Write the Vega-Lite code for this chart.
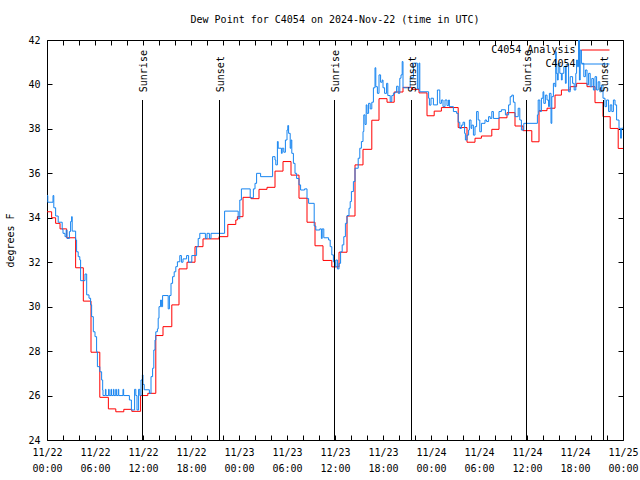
{
  "$schema": "https://vega.github.io/schema/vega-lite/v6.json",
  "width": 576,
  "height": 400,
  "autosize": {"type": "none"},
  "padding": {"left": 47, "top": 40, "right": 17, "bottom": 40},
  "background": "white",
  "title": {"text": "Dew Point for C4054 on 2024-Nov-22 (time in UTC)", "font": "DejaVu Sans Mono", "fontSize": 10, "fontWeight": "normal", "color": "black", "offset": 10},
  "config": {
    "view": {"stroke": "black", "strokeWidth": 1},
    "axis": {"labelFont": "DejaVu Sans Mono", "labelFontSize": 10, "labelColor": "black", "titleFont": "DejaVu Sans Mono", "titleFontSize": 10, "titleFontWeight": "normal", "titleColor": "black", "tickColor": "black", "domain": false, "grid": false, "tickSize": -5, "labelPadding": 12},
    "legend": {"labelFont": "DejaVu Sans Mono", "labelFontSize": 10, "labelColor": "black"}
  },
  "datasets": {
    "obs": [
      {"series": "C4054 Analysis", "hours": 0, "dewpoint": 34.27},
      {"series": "C4054 Analysis", "hours": 0.58, "dewpoint": 34.0},
      {"series": "C4054 Analysis", "hours": 1.08, "dewpoint": 33.75},
      {"series": "C4054 Analysis", "hours": 1.63, "dewpoint": 33.5},
      {"series": "C4054 Analysis", "hours": 2.46, "dewpoint": 33.1},
      {"series": "C4054 Analysis", "hours": 3.58, "dewpoint": 31.75},
      {"series": "C4054 Analysis", "hours": 4.54, "dewpoint": 30.25},
      {"series": "C4054 Analysis", "hours": 5.5, "dewpoint": 27.95},
      {"series": "C4054 Analysis", "hours": 6.6, "dewpoint": 25.92},
      {"series": "C4054 Analysis", "hours": 7.67, "dewpoint": 25.4},
      {"series": "C4054 Analysis", "hours": 8.6, "dewpoint": 25.27},
      {"series": "C4054 Analysis", "hours": 9.6, "dewpoint": 25.38},
      {"series": "C4054 Analysis", "hours": 10.6, "dewpoint": 25.29},
      {"series": "C4054 Analysis", "hours": 11.7, "dewpoint": 26.0},
      {"series": "C4054 Analysis", "hours": 12.6, "dewpoint": 26.1},
      {"series": "C4054 Analysis", "hours": 13.6, "dewpoint": 28.7},
      {"series": "C4054 Analysis", "hours": 14.5, "dewpoint": 29.1},
      {"series": "C4054 Analysis", "hours": 15.6, "dewpoint": 30.08},
      {"series": "C4054 Analysis", "hours": 16.5, "dewpoint": 31.7},
      {"series": "C4054 Analysis", "hours": 17.5, "dewpoint": 32.0},
      {"series": "C4054 Analysis", "hours": 18.5, "dewpoint": 32.7},
      {"series": "C4054 Analysis", "hours": 19.5, "dewpoint": 33.05},
      {"series": "C4054 Analysis", "hours": 21.5, "dewpoint": 33.15},
      {"series": "C4054 Analysis", "hours": 22.6, "dewpoint": 33.7},
      {"series": "C4054 Analysis", "hours": 23.6, "dewpoint": 33.9},
      {"series": "C4054 Analysis", "hours": 23.8, "dewpoint": 34.05},
      {"series": "C4054 Analysis", "hours": 24.5, "dewpoint": 34.92},
      {"series": "C4054 Analysis", "hours": 25.5, "dewpoint": 34.86},
      {"series": "C4054 Analysis", "hours": 26.5, "dewpoint": 35.28},
      {"series": "C4054 Analysis", "hours": 27.5, "dewpoint": 35.37},
      {"series": "C4054 Analysis", "hours": 28.5, "dewpoint": 36.1},
      {"series": "C4054 Analysis", "hours": 29.5, "dewpoint": 36.53},
      {"series": "C4054 Analysis", "hours": 30.5, "dewpoint": 35.92},
      {"series": "C4054 Analysis", "hours": 31.5, "dewpoint": 34.88},
      {"series": "C4054 Analysis", "hours": 32.5, "dewpoint": 33.8},
      {"series": "C4054 Analysis", "hours": 33.5, "dewpoint": 32.74},
      {"series": "C4054 Analysis", "hours": 34.5, "dewpoint": 32.08},
      {"series": "C4054 Analysis", "hours": 35.6, "dewpoint": 31.79},
      {"series": "C4054 Analysis", "hours": 36.5, "dewpoint": 32.45},
      {"series": "C4054 Analysis", "hours": 37.5, "dewpoint": 34.08},
      {"series": "C4054 Analysis", "hours": 38.5, "dewpoint": 36.38},
      {"series": "C4054 Analysis", "hours": 39.5, "dewpoint": 37.08},
      {"series": "C4054 Analysis", "hours": 40.6, "dewpoint": 38.39},
      {"series": "C4054 Analysis", "hours": 41.5, "dewpoint": 39.36},
      {"series": "C4054 Analysis", "hours": 42.5, "dewpoint": 39.2},
      {"series": "C4054 Analysis", "hours": 43.4, "dewpoint": 39.66},
      {"series": "C4054 Analysis", "hours": 44.5, "dewpoint": 39.87},
      {"series": "C4054 Analysis", "hours": 45.6, "dewpoint": 39.78},
      {"series": "C4054 Analysis", "hours": 46.5, "dewpoint": 39.62},
      {"series": "C4054 Analysis", "hours": 47.5, "dewpoint": 38.59},
      {"series": "C4054 Analysis", "hours": 48.4, "dewpoint": 38.8},
      {"series": "C4054 Analysis", "hours": 49.3, "dewpoint": 38.96},
      {"series": "C4054 Analysis", "hours": 51.4, "dewpoint": 38.06},
      {"series": "C4054 Analysis", "hours": 52.5, "dewpoint": 37.4},
      {"series": "C4054 Analysis", "hours": 53.5, "dewpoint": 37.58},
      {"series": "C4054 Analysis", "hours": 54.3, "dewpoint": 37.68},
      {"series": "C4054 Analysis", "hours": 55.6, "dewpoint": 37.98},
      {"series": "C4054 Analysis", "hours": 56.5, "dewpoint": 38.5},
      {"series": "C4054 Analysis", "hours": 57.5, "dewpoint": 38.73},
      {"series": "C4054 Analysis", "hours": 58.5, "dewpoint": 38.13},
      {"series": "C4054 Analysis", "hours": 59.5, "dewpoint": 37.92},
      {"series": "C4054 Analysis", "hours": 60.6, "dewpoint": 37.42},
      {"series": "C4054 Analysis", "hours": 61.5, "dewpoint": 38.82},
      {"series": "C4054 Analysis", "hours": 62.5, "dewpoint": 38.93},
      {"series": "C4054 Analysis", "hours": 63.5, "dewpoint": 39.52},
      {"series": "C4054 Analysis", "hours": 64.3, "dewpoint": 39.75},
      {"series": "C4054 Analysis", "hours": 65.4, "dewpoint": 39.9},
      {"series": "C4054 Analysis", "hours": 66.2, "dewpoint": 40.05},
      {"series": "C4054 Analysis", "hours": 67.5, "dewpoint": 39.9},
      {"series": "C4054 Analysis", "hours": 68.5, "dewpoint": 39.18},
      {"series": "C4054 Analysis", "hours": 69.5, "dewpoint": 38.55},
      {"series": "C4054 Analysis", "hours": 70.4, "dewpoint": 38.02},
      {"series": "C4054 Analysis", "hours": 71.4, "dewpoint": 37.12},
      {"series": "C4054 Analysis", "hours": 72, "dewpoint": 37.12},
      {"series": "C4054", "hours": 0, "dewpoint": 35.0},
      {"series": "C4054", "hours": 0.1, "dewpoint": 34.7},
      {"series": "C4054", "hours": 0.75, "dewpoint": 35.0},
      {"series": "C4054", "hours": 0.85, "dewpoint": 34.45},
      {"series": "C4054", "hours": 1.08, "dewpoint": 34.08},
      {"series": "C4054", "hours": 1.4, "dewpoint": 33.8},
      {"series": "C4054", "hours": 1.9, "dewpoint": 33.48},
      {"series": "C4054", "hours": 2.0, "dewpoint": 33.3},
      {"series": "C4054", "hours": 2.25, "dewpoint": 33.15},
      {"series": "C4054", "hours": 2.4, "dewpoint": 33.45},
      {"series": "C4054", "hours": 2.5, "dewpoint": 33.07},
      {"series": "C4054", "hours": 2.8, "dewpoint": 33.38},
      {"series": "C4054", "hours": 2.95, "dewpoint": 33.83},
      {"series": "C4054", "hours": 3.08, "dewpoint": 34.05},
      {"series": "C4054", "hours": 3.15, "dewpoint": 33.4},
      {"series": "C4054", "hours": 3.58, "dewpoint": 33.0},
      {"series": "C4054", "hours": 3.7, "dewpoint": 32.47},
      {"series": "C4054", "hours": 3.9, "dewpoint": 32.25},
      {"series": "C4054", "hours": 4.1, "dewpoint": 32.1},
      {"series": "C4054", "hours": 4.2, "dewpoint": 31.17},
      {"series": "C4054", "hours": 4.75, "dewpoint": 31.47},
      {"series": "C4054", "hours": 4.96, "dewpoint": 30.53},
      {"series": "C4054", "hours": 5.25, "dewpoint": 30.38},
      {"series": "C4054", "hours": 5.45, "dewpoint": 30.08},
      {"series": "C4054", "hours": 5.58, "dewpoint": 29.55},
      {"series": "C4054", "hours": 5.79, "dewpoint": 28.87},
      {"series": "C4054", "hours": 6.0, "dewpoint": 28.65},
      {"series": "C4054", "hours": 6.2, "dewpoint": 27.97},
      {"series": "C4054", "hours": 6.3, "dewpoint": 27.3},
      {"series": "C4054", "hours": 6.6, "dewpoint": 27.07},
      {"series": "C4054", "hours": 6.83, "dewpoint": 26.7},
      {"series": "C4054", "hours": 6.96, "dewpoint": 26.25},
      {"series": "C4054", "hours": 7.0, "dewpoint": 26.0},
      {"series": "C4054", "hours": 7.3, "dewpoint": 26.28},
      {"series": "C4054", "hours": 7.37, "dewpoint": 26.0},
      {"series": "C4054", "hours": 7.7, "dewpoint": 26.28},
      {"series": "C4054", "hours": 7.77, "dewpoint": 26.0},
      {"series": "C4054", "hours": 8.0, "dewpoint": 26.28},
      {"series": "C4054", "hours": 8.07, "dewpoint": 26.0},
      {"series": "C4054", "hours": 8.3, "dewpoint": 26.28},
      {"series": "C4054", "hours": 8.37, "dewpoint": 26.0},
      {"series": "C4054", "hours": 8.6, "dewpoint": 26.28},
      {"series": "C4054", "hours": 8.67, "dewpoint": 26.0},
      {"series": "C4054", "hours": 8.9, "dewpoint": 26.28},
      {"series": "C4054", "hours": 8.97, "dewpoint": 26.0},
      {"series": "C4054", "hours": 9.5, "dewpoint": 26.28},
      {"series": "C4054", "hours": 9.58, "dewpoint": 26.0},
      {"series": "C4054", "hours": 10.3, "dewpoint": 25.8},
      {"series": "C4054", "hours": 10.55, "dewpoint": 25.35},
      {"series": "C4054", "hours": 10.95, "dewpoint": 26.28},
      {"series": "C4054", "hours": 11.1, "dewpoint": 26.0},
      {"series": "C4054", "hours": 11.25, "dewpoint": 25.35},
      {"series": "C4054", "hours": 11.45, "dewpoint": 26.28},
      {"series": "C4054", "hours": 11.6, "dewpoint": 26.0},
      {"series": "C4054", "hours": 11.75, "dewpoint": 26.7},
      {"series": "C4054", "hours": 11.92, "dewpoint": 26.93},
      {"series": "C4054", "hours": 12.0, "dewpoint": 26.5},
      {"series": "C4054", "hours": 12.15, "dewpoint": 26.26},
      {"series": "C4054", "hours": 12.8, "dewpoint": 26.1},
      {"series": "C4054", "hours": 13.0, "dewpoint": 26.85},
      {"series": "C4054", "hours": 13.2, "dewpoint": 27.23},
      {"series": "C4054", "hours": 13.35, "dewpoint": 28.05},
      {"series": "C4054", "hours": 13.5, "dewpoint": 28.5},
      {"series": "C4054", "hours": 13.6, "dewpoint": 28.87},
      {"series": "C4054", "hours": 13.8, "dewpoint": 29.0},
      {"series": "C4054", "hours": 13.9, "dewpoint": 29.48},
      {"series": "C4054", "hours": 14.0, "dewpoint": 30.0},
      {"series": "C4054", "hours": 14.2, "dewpoint": 30.3},
      {"series": "C4054", "hours": 14.3, "dewpoint": 30.0},
      {"series": "C4054", "hours": 14.45, "dewpoint": 30.5},
      {"series": "C4054", "hours": 15.15, "dewpoint": 29.9},
      {"series": "C4054", "hours": 15.3, "dewpoint": 30.5},
      {"series": "C4054", "hours": 15.5, "dewpoint": 31.05},
      {"series": "C4054", "hours": 15.7, "dewpoint": 31.35},
      {"series": "C4054", "hours": 15.9, "dewpoint": 31.57},
      {"series": "C4054", "hours": 16.1, "dewpoint": 31.8},
      {"series": "C4054", "hours": 16.3, "dewpoint": 32.02},
      {"series": "C4054", "hours": 16.6, "dewpoint": 32.3},
      {"series": "C4054", "hours": 16.8, "dewpoint": 32.0},
      {"series": "C4054", "hours": 17.0, "dewpoint": 32.15},
      {"series": "C4054", "hours": 17.45, "dewpoint": 32.3},
      {"series": "C4054", "hours": 17.7, "dewpoint": 32.0},
      {"series": "C4054", "hours": 18.1, "dewpoint": 32.3},
      {"series": "C4054", "hours": 18.7, "dewpoint": 32.7},
      {"series": "C4054", "hours": 18.9, "dewpoint": 33.07},
      {"series": "C4054", "hours": 19.1, "dewpoint": 33.3},
      {"series": "C4054", "hours": 19.8, "dewpoint": 33.07},
      {"series": "C4054", "hours": 20.0, "dewpoint": 33.3},
      {"series": "C4054", "hours": 20.3, "dewpoint": 33.07},
      {"series": "C4054", "hours": 20.5, "dewpoint": 33.3},
      {"series": "C4054", "hours": 22.2, "dewpoint": 34.3},
      {"series": "C4054", "hours": 23.9, "dewpoint": 33.96},
      {"series": "C4054", "hours": 24.1, "dewpoint": 34.8},
      {"series": "C4054", "hours": 24.3, "dewpoint": 35.3},
      {"series": "C4054", "hours": 25.4, "dewpoint": 34.9},
      {"series": "C4054", "hours": 25.8, "dewpoint": 35.3},
      {"series": "C4054", "hours": 26.0, "dewpoint": 35.55},
      {"series": "C4054", "hours": 26.2, "dewpoint": 36.0},
      {"series": "C4054", "hours": 26.7, "dewpoint": 35.85},
      {"series": "C4054", "hours": 28.2, "dewpoint": 36.75},
      {"series": "C4054", "hours": 28.5, "dewpoint": 36.6},
      {"series": "C4054", "hours": 28.6, "dewpoint": 36.38},
      {"series": "C4054", "hours": 28.8, "dewpoint": 37.43},
      {"series": "C4054", "hours": 28.9, "dewpoint": 37.13},
      {"series": "C4054", "hours": 29.3, "dewpoint": 36.9},
      {"series": "C4054", "hours": 29.4, "dewpoint": 37.13},
      {"series": "C4054", "hours": 29.6, "dewpoint": 36.95},
      {"series": "C4054", "hours": 29.8, "dewpoint": 37.5},
      {"series": "C4054", "hours": 30.0, "dewpoint": 37.95},
      {"series": "C4054", "hours": 30.1, "dewpoint": 38.15},
      {"series": "C4054", "hours": 30.2, "dewpoint": 37.8},
      {"series": "C4054", "hours": 30.4, "dewpoint": 37.13},
      {"series": "C4054", "hours": 30.5, "dewpoint": 37.5},
      {"series": "C4054", "hours": 30.6, "dewpoint": 36.9},
      {"series": "C4054", "hours": 30.8, "dewpoint": 36.45},
      {"series": "C4054", "hours": 31.0, "dewpoint": 36.0},
      {"series": "C4054", "hours": 31.2, "dewpoint": 35.77},
      {"series": "C4054", "hours": 31.5, "dewpoint": 35.48},
      {"series": "C4054", "hours": 31.7, "dewpoint": 35.25},
      {"series": "C4054", "hours": 32.2, "dewpoint": 35.3},
      {"series": "C4054", "hours": 32.5, "dewpoint": 34.87},
      {"series": "C4054", "hours": 32.7, "dewpoint": 34.65},
      {"series": "C4054", "hours": 33.4, "dewpoint": 33.63},
      {"series": "C4054", "hours": 33.6, "dewpoint": 33.45},
      {"series": "C4054", "hours": 34.1, "dewpoint": 33.5},
      {"series": "C4054", "hours": 34.3, "dewpoint": 33.07},
      {"series": "C4054", "hours": 34.4, "dewpoint": 33.5},
      {"series": "C4054", "hours": 34.6, "dewpoint": 33.1},
      {"series": "C4054", "hours": 35.2, "dewpoint": 33.0},
      {"series": "C4054", "hours": 35.4, "dewpoint": 32.7},
      {"series": "C4054", "hours": 35.6, "dewpoint": 32.33},
      {"series": "C4054", "hours": 35.8, "dewpoint": 32.02},
      {"series": "C4054", "hours": 36.0, "dewpoint": 31.8},
      {"series": "C4054", "hours": 36.1, "dewpoint": 32.1},
      {"series": "C4054", "hours": 36.3, "dewpoint": 31.7},
      {"series": "C4054", "hours": 36.5, "dewpoint": 31.95},
      {"series": "C4054", "hours": 36.7, "dewpoint": 32.47},
      {"series": "C4054", "hours": 36.9, "dewpoint": 32.78},
      {"series": "C4054", "hours": 37.1, "dewpoint": 33.15},
      {"series": "C4054", "hours": 37.3, "dewpoint": 33.75},
      {"series": "C4054", "hours": 37.5, "dewpoint": 34.1},
      {"series": "C4054", "hours": 37.75, "dewpoint": 34.43},
      {"series": "C4054", "hours": 37.9, "dewpoint": 34.73},
      {"series": "C4054", "hours": 38.05, "dewpoint": 35.18},
      {"series": "C4054", "hours": 38.3, "dewpoint": 35.63},
      {"series": "C4054", "hours": 38.5, "dewpoint": 36.23},
      {"series": "C4054", "hours": 38.9, "dewpoint": 36.68},
      {"series": "C4054", "hours": 39.1, "dewpoint": 37.13},
      {"series": "C4054", "hours": 39.3, "dewpoint": 37.43},
      {"series": "C4054", "hours": 39.5, "dewpoint": 37.88},
      {"series": "C4054", "hours": 39.6, "dewpoint": 38.63},
      {"series": "C4054", "hours": 39.75, "dewpoint": 38.2},
      {"series": "C4054", "hours": 39.9, "dewpoint": 39.08},
      {"series": "C4054", "hours": 40.0, "dewpoint": 38.7},
      {"series": "C4054", "hours": 40.2, "dewpoint": 39.15},
      {"series": "C4054", "hours": 40.4, "dewpoint": 38.9},
      {"series": "C4054", "hours": 40.6, "dewpoint": 39.2},
      {"series": "C4054", "hours": 40.8, "dewpoint": 39.85},
      {"series": "C4054", "hours": 41.0, "dewpoint": 40.75},
      {"series": "C4054", "hours": 41.1, "dewpoint": 39.9},
      {"series": "C4054", "hours": 41.3, "dewpoint": 39.6},
      {"series": "C4054", "hours": 41.5, "dewpoint": 40.43},
      {"series": "C4054", "hours": 41.7, "dewpoint": 40.1},
      {"series": "C4054", "hours": 41.9, "dewpoint": 40.2},
      {"series": "C4054", "hours": 42.0, "dewpoint": 39.85},
      {"series": "C4054", "hours": 42.2, "dewpoint": 39.6},
      {"series": "C4054", "hours": 42.45, "dewpoint": 40.05},
      {"series": "C4054", "hours": 42.6, "dewpoint": 39.5},
      {"series": "C4054", "hours": 42.9, "dewpoint": 39.23},
      {"series": "C4054", "hours": 43.1, "dewpoint": 39.5},
      {"series": "C4054", "hours": 43.3, "dewpoint": 39.6},
      {"series": "C4054", "hours": 43.5, "dewpoint": 39.65},
      {"series": "C4054", "hours": 43.7, "dewpoint": 39.92},
      {"series": "C4054", "hours": 43.9, "dewpoint": 39.6},
      {"series": "C4054", "hours": 44.1, "dewpoint": 40.28},
      {"series": "C4054", "hours": 44.25, "dewpoint": 40.43},
      {"series": "C4054", "hours": 44.4, "dewpoint": 41.03},
      {"series": "C4054", "hours": 44.5, "dewpoint": 39.85},
      {"series": "C4054", "hours": 45.4, "dewpoint": 40.3},
      {"series": "C4054", "hours": 45.8, "dewpoint": 40.96},
      {"series": "C4054", "hours": 46.3, "dewpoint": 39.8},
      {"series": "C4054", "hours": 46.5, "dewpoint": 40.96},
      {"series": "C4054", "hours": 46.6, "dewpoint": 39.67},
      {"series": "C4054", "hours": 47.7, "dewpoint": 39.38},
      {"series": "C4054", "hours": 47.8, "dewpoint": 39.07},
      {"series": "C4054", "hours": 48.0, "dewpoint": 39.38},
      {"series": "C4054", "hours": 48.3, "dewpoint": 39.08},
      {"series": "C4054", "hours": 48.8, "dewpoint": 39.75},
      {"series": "C4054", "hours": 49.1, "dewpoint": 39.15},
      {"series": "C4054", "hours": 49.3, "dewpoint": 39.3},
      {"series": "C4054", "hours": 49.5, "dewpoint": 39.0},
      {"series": "C4054", "hours": 49.75, "dewpoint": 39.3},
      {"series": "C4054", "hours": 50.0, "dewpoint": 39.05},
      {"series": "C4054", "hours": 50.2, "dewpoint": 39.3},
      {"series": "C4054", "hours": 50.3, "dewpoint": 39.0},
      {"series": "C4054", "hours": 50.8, "dewpoint": 38.78},
      {"series": "C4054", "hours": 51.2, "dewpoint": 38.7},
      {"series": "C4054", "hours": 51.4, "dewpoint": 38.3},
      {"series": "C4054", "hours": 51.6, "dewpoint": 38.02},
      {"series": "C4054", "hours": 51.8, "dewpoint": 38.17},
      {"series": "C4054", "hours": 52.0, "dewpoint": 38.3},
      {"series": "C4054", "hours": 52.2, "dewpoint": 37.8},
      {"series": "C4054", "hours": 52.3, "dewpoint": 37.5},
      {"series": "C4054", "hours": 52.5, "dewpoint": 37.72},
      {"series": "C4054", "hours": 52.7, "dewpoint": 37.95},
      {"series": "C4054", "hours": 52.8, "dewpoint": 38.4},
      {"series": "C4054", "hours": 53.0, "dewpoint": 38.02},
      {"series": "C4054", "hours": 53.1, "dewpoint": 38.17},
      {"series": "C4054", "hours": 53.3, "dewpoint": 37.72},
      {"series": "C4054", "hours": 53.5, "dewpoint": 38.1},
      {"series": "C4054", "hours": 53.7, "dewpoint": 38.78},
      {"series": "C4054", "hours": 53.9, "dewpoint": 38.4},
      {"series": "C4054", "hours": 54.1, "dewpoint": 37.87},
      {"series": "C4054", "hours": 54.3, "dewpoint": 38.25},
      {"series": "C4054", "hours": 54.75, "dewpoint": 38.4},
      {"series": "C4054", "hours": 54.95, "dewpoint": 38.33},
      {"series": "C4054", "hours": 55.2, "dewpoint": 38.55},
      {"series": "C4054", "hours": 55.4, "dewpoint": 38.47},
      {"series": "C4054", "hours": 55.6, "dewpoint": 38.78},
      {"series": "C4054", "hours": 55.8, "dewpoint": 38.47},
      {"series": "C4054", "hours": 56.5, "dewpoint": 38.78},
      {"series": "C4054", "hours": 56.8, "dewpoint": 38.86},
      {"series": "C4054", "hours": 57.3, "dewpoint": 38.63},
      {"series": "C4054", "hours": 57.7, "dewpoint": 39.08},
      {"series": "C4054", "hours": 57.9, "dewpoint": 39.45},
      {"series": "C4054", "hours": 58.1, "dewpoint": 39.52},
      {"series": "C4054", "hours": 58.3, "dewpoint": 39.2},
      {"series": "C4054", "hours": 58.5, "dewpoint": 38.55},
      {"series": "C4054", "hours": 58.9, "dewpoint": 38.93},
      {"series": "C4054", "hours": 59.1, "dewpoint": 38.4},
      {"series": "C4054", "hours": 59.3, "dewpoint": 37.95},
      {"series": "C4054", "hours": 59.6, "dewpoint": 38.25},
      {"series": "C4054", "hours": 61.3, "dewpoint": 38.63},
      {"series": "C4054", "hours": 61.4, "dewpoint": 39.3},
      {"series": "C4054", "hours": 61.6, "dewpoint": 38.78},
      {"series": "C4054", "hours": 61.8, "dewpoint": 39.38},
      {"series": "C4054", "hours": 62.0, "dewpoint": 39.67},
      {"series": "C4054", "hours": 62.1, "dewpoint": 39.15},
      {"series": "C4054", "hours": 62.3, "dewpoint": 39.52},
      {"series": "C4054", "hours": 62.5, "dewpoint": 39.3},
      {"series": "C4054", "hours": 62.7, "dewpoint": 39.0},
      {"series": "C4054", "hours": 62.8, "dewpoint": 39.6},
      {"series": "C4054", "hours": 63.0, "dewpoint": 38.25},
      {"series": "C4054", "hours": 63.1, "dewpoint": 39.45},
      {"series": "C4054", "hours": 63.3, "dewpoint": 40.05},
      {"series": "C4054", "hours": 63.5, "dewpoint": 39.9},
      {"series": "C4054", "hours": 63.6, "dewpoint": 41.47},
      {"series": "C4054", "hours": 63.65, "dewpoint": 40.5},
      {"series": "C4054", "hours": 63.8, "dewpoint": 40.2},
      {"series": "C4054", "hours": 63.9, "dewpoint": 40.95},
      {"series": "C4054", "hours": 64.1, "dewpoint": 40.5},
      {"series": "C4054", "hours": 64.3, "dewpoint": 40.2},
      {"series": "C4054", "hours": 64.4, "dewpoint": 40.5},
      {"series": "C4054", "hours": 64.6, "dewpoint": 40.8},
      {"series": "C4054", "hours": 64.8, "dewpoint": 40.05},
      {"series": "C4054", "hours": 64.9, "dewpoint": 40.9},
      {"series": "C4054", "hours": 65.2, "dewpoint": 39.67},
      {"series": "C4054", "hours": 65.4, "dewpoint": 40.35},
      {"series": "C4054", "hours": 65.7, "dewpoint": 40.05},
      {"series": "C4054", "hours": 65.9, "dewpoint": 39.75},
      {"series": "C4054", "hours": 66.1, "dewpoint": 40.5},
      {"series": "C4054", "hours": 66.2, "dewpoint": 41.1},
      {"series": "C4054", "hours": 66.3, "dewpoint": 40.8},
      {"series": "C4054", "hours": 66.45, "dewpoint": 42.0},
      {"series": "C4054", "hours": 66.55, "dewpoint": 40.2},
      {"series": "C4054", "hours": 66.65, "dewpoint": 41.55},
      {"series": "C4054", "hours": 66.8, "dewpoint": 40.95},
      {"series": "C4054", "hours": 67.1, "dewpoint": 40.35},
      {"series": "C4054", "hours": 67.3, "dewpoint": 40.65},
      {"series": "C4054", "hours": 67.5, "dewpoint": 39.98},
      {"series": "C4054", "hours": 67.7, "dewpoint": 40.5},
      {"series": "C4054", "hours": 67.9, "dewpoint": 39.9},
      {"series": "C4054", "hours": 68.1, "dewpoint": 40.27},
      {"series": "C4054", "hours": 68.3, "dewpoint": 39.75},
      {"series": "C4054", "hours": 68.5, "dewpoint": 40.35},
      {"series": "C4054", "hours": 68.7, "dewpoint": 39.75},
      {"series": "C4054", "hours": 68.9, "dewpoint": 40.12},
      {"series": "C4054", "hours": 69.1, "dewpoint": 39.67},
      {"series": "C4054", "hours": 69.3, "dewpoint": 39.97},
      {"series": "C4054", "hours": 69.5, "dewpoint": 39.38},
      {"series": "C4054", "hours": 69.75, "dewpoint": 39.0},
      {"series": "C4054", "hours": 69.95, "dewpoint": 39.3},
      {"series": "C4054", "hours": 70.2, "dewpoint": 38.78},
      {"series": "C4054", "hours": 70.4, "dewpoint": 39.08},
      {"series": "C4054", "hours": 70.6, "dewpoint": 38.78},
      {"series": "C4054", "hours": 70.8, "dewpoint": 39.3},
      {"series": "C4054", "hours": 71.0, "dewpoint": 39.08},
      {"series": "C4054", "hours": 71.2, "dewpoint": 38.4},
      {"series": "C4054", "hours": 71.5, "dewpoint": 38.03},
      {"series": "C4054", "hours": 71.7, "dewpoint": 37.58},
      {"series": "C4054", "hours": 71.8, "dewpoint": 38.03},
      {"series": "C4054", "hours": 72, "dewpoint": 38.03}
    ],
    "events": [
      {"event": "Sunrise", "hours": 11.875},
      {"event": "Sunset", "hours": 21.5},
      {"event": "Sunrise", "hours": 35.875},
      {"event": "Sunset", "hours": 45.5},
      {"event": "Sunrise", "hours": 59.875},
      {"event": "Sunset", "hours": 69.5}
    ]
  },
  "layer": [
    {
      "data": {"name": "obs"},
      "mark": {"type": "line", "interpolate": "step-after", "strokeWidth": 1, "clip": true},
      "encoding": {
        "x": {
          "field": "hours", "type": "quantitative",
          "scale": {"domain": [0, 72], "nice": false, "zero": false},
          "axis": {"orient": "bottom", "title": null, "values": [0, 2, 4, 6, 8, 10, 12, 14, 16, 18, 20, 22, 24, 26, 28, 30, 32, 34, 36, 38, 40, 42, 44, 46, 48, 50, 52, 54, 56, 58, 60, 62, 64, 66, 68, 70, 72], "labelFlush": false, "labelOverlap": false, "labelLineHeight": 16, "labelExpr": "datum.value % 6 == 0 ? ['11/' + (22 + floor(datum.value / 24)), (datum.value % 24 < 10 ? '0' : '') + (datum.value % 24) + ':00'] : ''"}
        },
        "y": {
          "field": "dewpoint", "type": "quantitative",
          "scale": {"domain": [24, 42], "nice": false, "zero": false},
          "axis": {"orient": "left", "title": "degrees F", "values": [24, 26, 28, 30, 32, 34, 36, 38, 40, 42], "titleAngle": -90, "titleX": -37, "titleY": 200, "titleAlign": "center", "titleBaseline": "middle"}
        },
        "color": {
          "field": "series", "type": "nominal",
          "scale": {"domain": ["C4054 Analysis", "C4054"], "range": ["#ff0000", "#1684f0"]},
          "legend": {"title": null, "orient": "none", "legendX": 543.5, "legendY": 5, "symbolType": "M-5.6,0H5.6", "symbolSize": 25, "symbolStrokeWidth": 1, "symbolOffset": 0, "labelAlign": "right", "labelOffset": -25, "rowPadding": 4, "padding": 0}
        }
      }
    },
    {
      "data": {"name": "events"},
      "mark": {"type": "rule", "color": "black", "strokeWidth": 1, "xOffset": 0.5},
      "encoding": {
        "x": {"field": "hours", "type": "quantitative", "axis": {"orient": "top", "title": null, "labels": false, "values": [0, 2, 4, 6, 8, 10, 12, 14, 16, 18, 20, 22, 24, 26, 28, 30, 32, 34, 36, 38, 40, 42, 44, 46, 48, 50, 52, 54, 56, 58, 60, 62, 64, 66, 68, 70, 72]}},
        "y": {"datum": 24, "type": "quantitative", "axis": {"orient": "right", "title": null, "labels": false, "values": [24, 26, 28, 30, 32, 34, 36, 38, 40, 42]}},
        "y2": {"datum": 39.3}
      }
    },
    {
      "data": {"name": "events"},
      "mark": {"type": "text", "angle": 270, "align": "left", "baseline": "middle", "font": "DejaVu Sans Mono", "fontSize": 10, "dy": 2, "color": "black"},
      "encoding": {
        "x": {"field": "hours", "type": "quantitative", "axis": null},
        "y": {"datum": 39.65, "type": "quantitative", "axis": null},
        "text": {"field": "event"}
      }
    }
  ]
}
